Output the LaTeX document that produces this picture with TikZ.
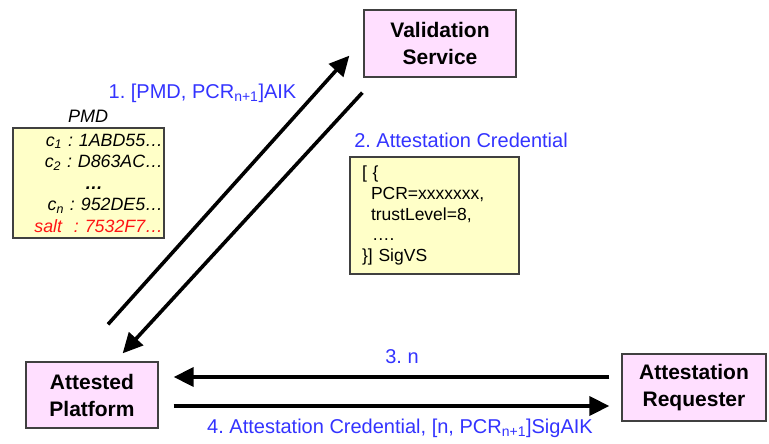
\documentclass[tikz,border=0pt]{standalone}
\usepackage{fontspec}
\setmainfont{Liberation Sans}
\usetikzlibrary{arrows.meta,calc}
\frenchspacing

\definecolor{boxpink}{RGB}{255,223,255}
\definecolor{boxedge}{RGB}{64,64,64}
\definecolor{noteyellow}{RGB}{255,255,200}
\definecolor{msgblue}{RGB}{51,51,255}
\definecolor{saltred}{RGB}{255,20,20}

\tikzset{
  party/.style={draw=boxedge, line width=1.3pt, fill=boxpink, align=center,
    inner sep=0pt, font=\fontsize{21}{27}\selectfont\bfseries},
  note/.style={draw=boxedge, line width=1.3pt, fill=noteyellow, inner ysep=0pt},
  msg/.style={text=msgblue, inner sep=0pt, font=\fontsize{20}{22}\selectfont},
  flow/.style={line width=3.6pt, -{Triangle[length=20pt,width=19pt]}},
}

\begin{document}
\begin{tikzpicture}[x=1pt,y=-1pt]
\useasboundingbox (0,0) rectangle (769,444);

% the three parties
\node[party, minimum width=152pt, minimum height=67pt] (vs) at (440,43.5) {Validation\\Service};
\node[party, minimum width=132pt, minimum height=66pt] (ap) at (92,395) {Attested\\Platform};
\node[party, minimum width=144pt, minimum height=67pt] (rq) at (694,387.5) {Attestation\\Requester};

% platform measurement digest
\node[font=\itshape\fontsize{18}{20}\selectfont, inner sep=0pt] (pmdlabel) at (88,116) {PMD};
\node[note, minimum height=110pt, text width=149pt, inner xsep=1pt, align=right,
      font=\itshape\fontsize{17.8}{21.5}\selectfont] (pmd) at (88.5,183)
  {c\textsubscript{1} : 1ABD55…\\
   c\textsubscript{2} : D863AC…\\
   \textbf{…}\rule{60pt}{0pt}\\
   c\textsubscript{n} : 952DE5…\\
   \color{saltred}salt\ \ : 7532F7…};

% attestation credential contents
\node[note, minimum height=117pt, text width=145pt, inner xsep=12pt, align=left,
      font=\fontsize{17.5}{20.75}\selectfont] (cred) at (434.5,215.5)
  {[ \{\\
   \hspace*{9pt}PCR=xxxxxxx,\\
   \hspace*{9pt}trustLevel=8,\\
   \hspace*{10pt}….\\
   \}] SigVS};

% message labels
\node[msg] (l1) at (202.5,93) {1. [PMD, PCR\textsubscript{n+1}]AIK};
\node[msg] (l2) at (461,140) {2. Attestation Credential};
\node[msg] (l3) at (402,357) {3. n};
\node[msg] (l4) at (400,428) {4. Attestation Credential, [n, PCR\textsubscript{n+1}]SigAIK};

% end points of the diagonal messages
\coordinate (a1s) at ($(ap.north)+(16,-37)$);
\coordinate (a1e) at ($(vs.south west)+(-14,-22)$);
\coordinate (a2s) at ($(vs.south west)+(-1,15)$);
\coordinate (a2e) at ($(ap.north east)+(-36,-8)$);
% heights of the horizontal messages
\coordinate (r3) at (0,377);
\coordinate (r4) at (0,406);

\draw[flow] (a1s) -- (a1e);
\draw[flow] (a2s) -- (a2e);
\draw[flow, shorten <=12pt, shorten >=15pt] (rq.west |- r3) -- (ap.east |- r3);
\draw[flow, shorten <=15pt, shorten >=12pt] (ap.east |- r4) -- (rq.west |- r4);
\end{tikzpicture}
\end{document}
